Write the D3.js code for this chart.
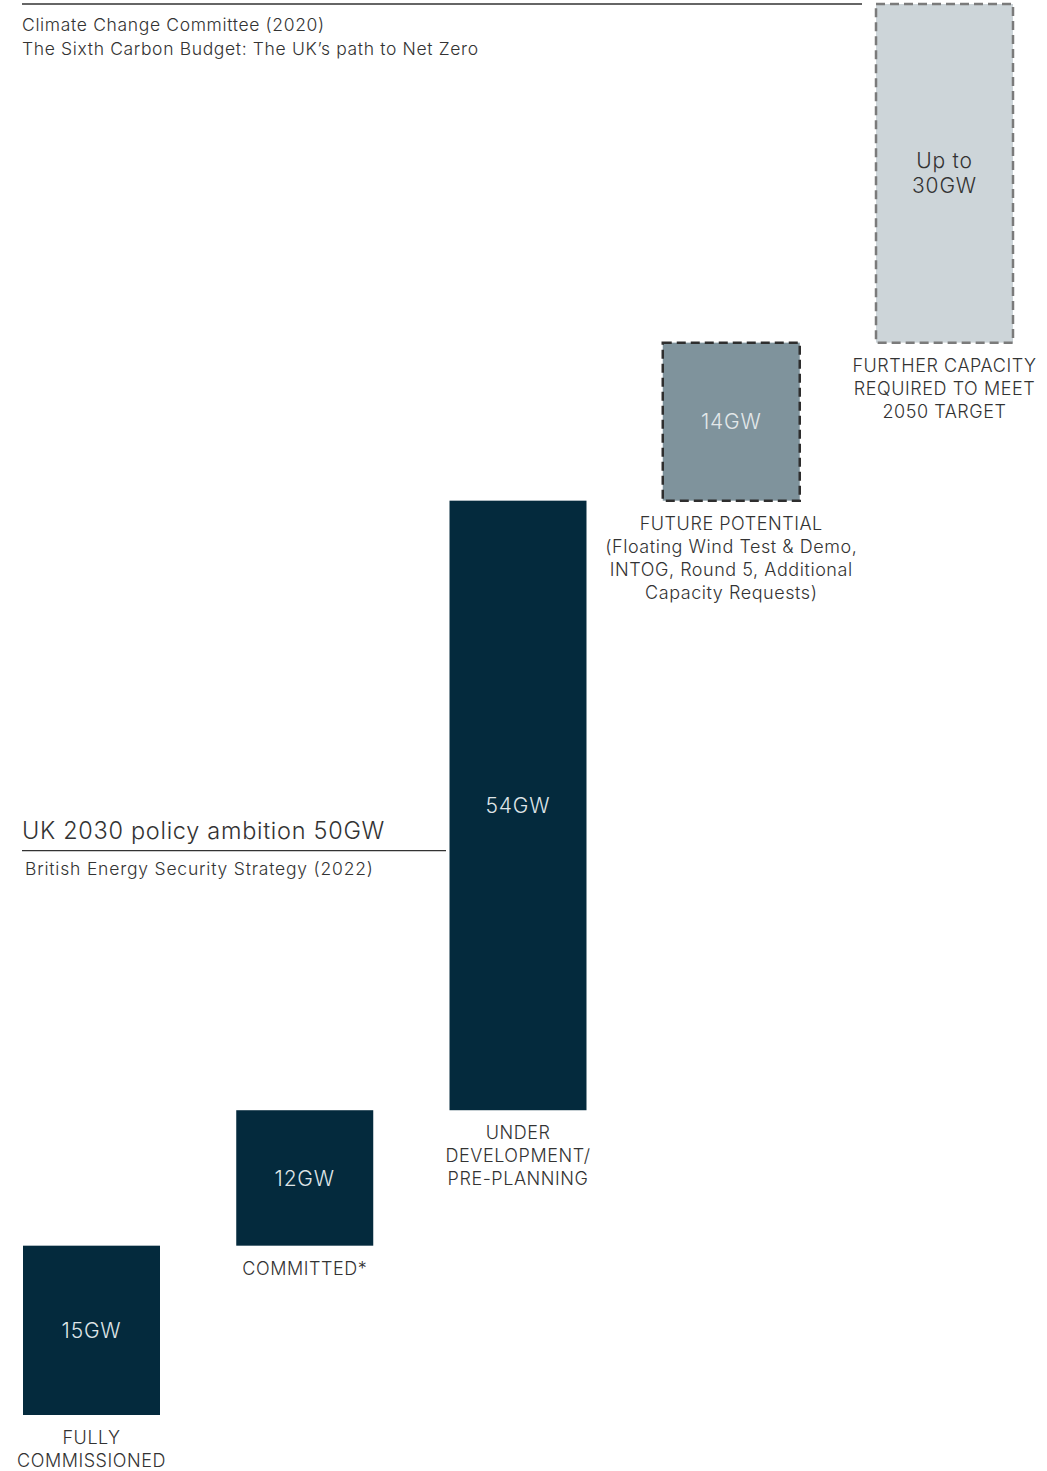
<!DOCTYPE html>
<html><head><meta charset="utf-8">
<script src="https://cdn.jsdelivr.net/npm/d3@7"></script>
<style>
body{margin:0;background:#fff}
text{font-family:Inter,"Noto Sans",sans-serif;font-weight:300;fill:#333}
</style>
</head><body>
<svg id="chart" width="1047" height="1471"></svg>
<script>
// ---- data ----
const categories = ["Fully commissioned","Committed","Under development","Future potential","Further capacity"];
const categoryLabels = [
  ["FULLY","COMMISSIONED"],
  ["COMMITTED*"],
  ["UNDER","DEVELOPMENT/","PRE-PLANNING"],
  ["FUTURE POTENTIAL","(Floating Wind Test & Demo,","INTOG, Round 5, Additional","Capacity Requests)"],
  ["FURTHER CAPACITY","REQUIRED TO MEET","2050 TARGET"]
];
const values = [15, 12, 54, 14, 30];
const valueLabels = [["15GW"],["12GW"],["54GW"],["14GW"],["Up to","30GW"]];
const statuses = ["solid","solid","solid","potential","required"];
const policyAmbition = 50;
const policyTitle = "UK 2030 policy ambition 50GW";
const policySource = "British Energy Security Strategy (2022)";
const netZeroTotal = 125;
const netZeroSource = ["Climate Change Committee (2020)","The Sixth Carbon Budget: The UK\u2019s path to Net Zero"];

// ---- build ----
const svg = d3.select("#chart");

let cum = 0;
const rows = values.map((v,i) => { const r = {cat: categories[i], start: cum, end: cum + v, v, i}; cum += v; return r; });

const x = d3.scaleBand().domain(categories).range([23, 1013]).paddingInner(0.3576).paddingOuter(0);
const y = d3.scaleLinear().domain([0, netZeroTotal]).range([1415, 4]);

const fills = {solid:"#042a3d", potential:"#7f939c", required:"#cdd5d9"};
const strokes = {solid:"none", potential:"#2e2e2e", required:"#7b7b7b"};
const txtFill = {solid:"#dfe4e7", potential:"#e3e8ea", required:"#333"};

// reference lines
svg.append("line").attr("x1", 22).attr("x2", 862)
  .attr("y1", y(netZeroTotal)).attr("y2", y(netZeroTotal))
  .attr("stroke", "#333").attr("stroke-width", 1.5);
netZeroSource.forEach((t,k) => {
  svg.append("text").attr("x", 22).attr("y", y(netZeroTotal) + 27 + k*24)
    .attr("font-size", 17.5).attr("letter-spacing", 0.65).text(t);
});

const py = y(policyAmbition);
svg.append("line").attr("x1", 22).attr("x2", 446).attr("y1", py).attr("y2", py)
  .attr("stroke", "#333").attr("stroke-width", 1.3);
svg.append("text").attr("x", 22).attr("y", py - 12).attr("font-size", 23.5)
  .attr("letter-spacing", 0.7).text(policyTitle);
svg.append("text").attr("x", 25).attr("y", py + 24).attr("font-size", 17.5)
  .attr("letter-spacing", 0.8).text(policySource);

// bars
svg.append("g").selectAll("rect").data(rows).join("rect")
  .attr("x", d => x(d.cat))
  .attr("width", x.bandwidth())
  .attr("y", d => y(d.end))
  .attr("height", d => y(d.start) - y(d.end))
  .attr("fill", d => fills[statuses[d.i]])
  .attr("stroke", d => strokes[statuses[d.i]])
  .attr("stroke-width", 2.5)
  .attr("stroke-dasharray", d => statuses[d.i] === "solid" ? null : "9,5");

// labels
rows.forEach(d => {
  const lines = valueLabels[d.i];
  const cy = (y(d.start) + y(d.end)) / 2;
  const lh = 25;
  lines.forEach((t,k) => {
    svg.append("text")
      .attr("x", x(d.cat) + x.bandwidth()/2)
      .attr("y", cy + (k - (lines.length-1)/2) * lh)
      .attr("dy", "0.36em")
      .attr("text-anchor", "middle")
      .attr("font-size", 21)
      .attr("letter-spacing", 0.8)
      .style("fill", txtFill[statuses[d.i]])
      .text(t);
  });
  categoryLabels[d.i].forEach((t,k) => {
    svg.append("text")
      .attr("x", x(d.cat) + x.bandwidth()/2)
      .attr("y", y(d.start) + 29 + k*23)
      .attr("text-anchor", "middle")
      .attr("font-size", 18)
      .attr("letter-spacing", 0.55)
      .text(t);
  });
});
</script>
</body></html>
